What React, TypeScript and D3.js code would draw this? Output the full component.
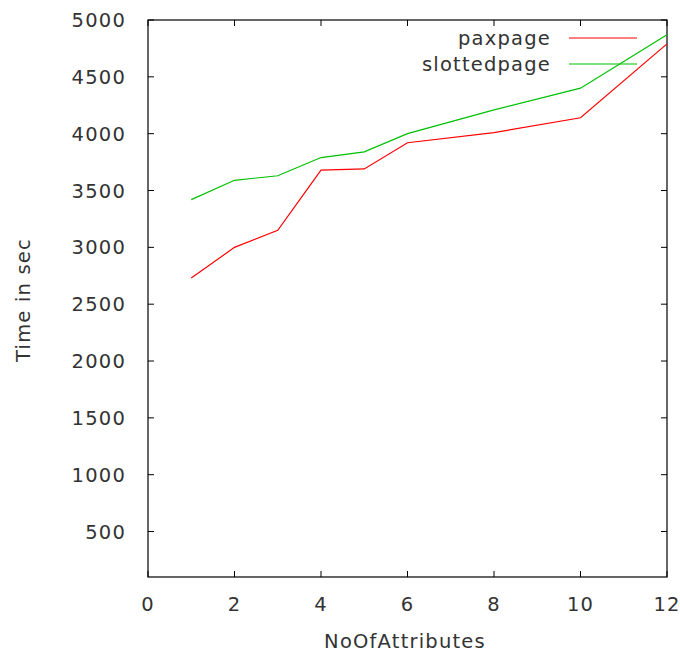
import React from "react";
import * as d3 from "d3";

const attributes = [1, 2, 3, 4, 5, 6, 8, 10, 12];
const paxpage = [2730, 3000, 3150, 3680, 3690, 3920, 4010, 4140, 4790];
const slottedpage = [3420, 3590, 3630, 3790, 3840, 4000, 4210, 4400, 4870];
const xTicks = [0, 2, 4, 6, 8, 10, 12];
const yTicks = [500, 1000, 1500, 2000, 2500, 3000, 3500, 4000, 4500, 5000];
const seriesNames = ["paxpage", "slottedpage"];
const seriesColors = ["#ff0000", "#00c000"];

const W = 680;
const H = 655;
const left = 148, right = 667, top = 20, bottom = 577;

export default function App() {
  const x = d3.scaleLinear().domain([0, 12]).range([left, right]);
  const y = d3.scaleLinear().domain([100, 5000]).range([bottom, top]);
  const line = d3
    .line<[number, number]>()
    .x((d) => x(d[0]))
    .y((d) => y(d[1]));
  const series = [paxpage, slottedpage];
  const font = {
    fontFamily: "DejaVu Sans",
    fontSize: 19.5,
    letterSpacing: "1.2px",
    fill: "#333",
  } as const;
  const tl = 6;
  return (
    <svg
      width={W}
      height={H}
      style={{ position: "absolute", left: 0, top: 0, background: "#fff" }}
    >
      {/* frame */}
      <rect
        x={left}
        y={top}
        width={right - left}
        height={bottom - top}
        fill="none"
        stroke="#000"
        strokeWidth={1.2}
      />
      {/* x ticks */}
      {xTicks.map((t) => (
        <g key={"x" + t}>
          <line x1={x(t)} x2={x(t)} y1={bottom} y2={bottom - tl} stroke="#000" />
          <line x1={x(t)} x2={x(t)} y1={top} y2={top + tl} stroke="#000" />
          <text {...font} x={x(t)} y={bottom + 34} textAnchor="middle">
            {t}
          </text>
        </g>
      ))}
      {/* y ticks */}
      {yTicks.map((t) => (
        <g key={"y" + t}>
          <line x1={left} x2={left + tl} y1={y(t)} y2={y(t)} stroke="#000" />
          <line x1={right} x2={right - tl} y1={y(t)} y2={y(t)} stroke="#000" />
          <text {...font} x={126} y={y(t) + 7} textAnchor="end">
            {t}
          </text>
        </g>
      ))}
      {/* series */}
      {series.map((s, i) => (
        <path
          key={seriesNames[i]}
          d={line(attributes.map((a, j) => [a, s[j]] as [number, number])) || ""}
          fill="none"
          stroke={seriesColors[i]}
          strokeWidth={1.2}
        />
      ))}
      {/* legend */}
      {seriesNames.map((n, i) => (
        <g key={"leg" + n}>
          <text {...font} x={551} y={38 + i * 26 + 7} textAnchor="end">
            {n}
          </text>
          <line
            x1={569}
            x2={637}
            y1={38 + i * 26}
            y2={38 + i * 26}
            stroke={seriesColors[i]}
            strokeWidth={1.2}
          />
        </g>
      ))}
      {/* axis titles */}
      <text {...font} x={405} y={648} textAnchor="middle">
        NoOfAttributes
      </text>
      <text
        {...font}
        transform={`translate(30,300) rotate(-90)`}
        textAnchor="middle"
      >
        Time in sec
      </text>
    </svg>
  );
}
